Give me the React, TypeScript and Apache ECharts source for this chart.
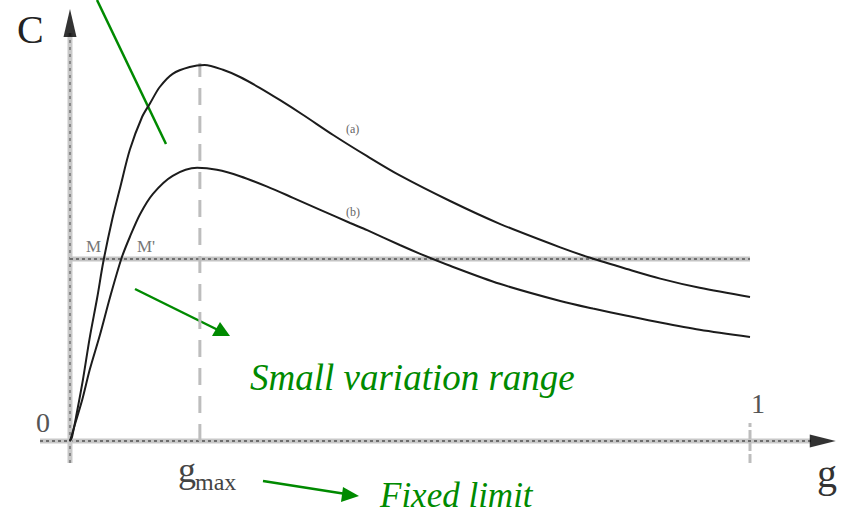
import React, { useEffect, useRef } from "react";
import * as echarts from "echarts";

// g (horizontal) and C (vertical) values, g in [0,1]
const curveA: number[][] = [
  [0, 0], [0.003, 0.01], [0.01, 0.07], [0.019, 0.153], [0.029, 0.258], [0.04, 0.358],
  [0.049, 0.448], [0.062, 0.553], [0.074, 0.635], [0.088, 0.728], [0.106, 0.81],
  [0.118, 0.845], [0.132, 0.885], [0.151, 0.918], [0.176, 0.935], [0.198, 0.94],
  [0.225, 0.928], [0.25, 0.91], [0.279, 0.883], [0.309, 0.852], [0.343, 0.815],
  [0.387, 0.765], [0.437, 0.712], [0.485, 0.664], [0.559, 0.6], [0.632, 0.543],
  [0.721, 0.484], [0.765, 0.458], [0.819, 0.43], [0.868, 0.406], [0.926, 0.383], [1, 0.36],
];
const curveB: number[][] = [
  [0, 0], [0.007, 0.04], [0.018, 0.103], [0.029, 0.178], [0.044, 0.265], [0.059, 0.36],
  [0.076, 0.458], [0.088, 0.51], [0.103, 0.567], [0.122, 0.618], [0.151, 0.663],
  [0.187, 0.683], [0.216, 0.678], [0.25, 0.662], [0.29, 0.636], [0.328, 0.608],
  [0.368, 0.578], [0.412, 0.545], [0.437, 0.527], [0.485, 0.49], [0.515, 0.468],
  [0.559, 0.438], [0.632, 0.393], [0.721, 0.35], [0.769, 0.331], [0.819, 0.313],
  [0.868, 0.296], [0.926, 0.278], [1, 0.26],
];
const LEVEL = 0.455; // horizontal level through M and M'
const G_MAX = 0.191;
const G_MAX_TOP = 0.945;
const G_ONE = 1;
const X_MIN = -0.0441;
const X_MAX = 1.1294;
const Y_MIN = -0.055;
const Y_MAX = 1.0825;
const tickLabels = { zero: "0", one: "1", gmax: "g", gmaxSub: "max", xName: "g", yName: "C" };
const curveLabels = ["(a)", "(b)"];
const levelLabels = ["M", "M'"];
const annotations = ["Small variation range", "Fixed limit"];

const GREEN = "#008a00";
const SERIF = "'Liberation Serif', 'DejaVu Serif', serif";

function lineSeries(data: number[][], color: string, width: number, type: any, z = 2) {
  return {
    type: "line",
    data,
    symbol: "none",
    silent: true,
    z,
    lineStyle: { color, width, type },
  };
}

export default function App() {
  const ref = useRef<HTMLDivElement>(null);
  useEffect(() => {
    if (!ref.current) return;
    const chart = echarts.init(ref.current, undefined, { renderer: "svg" });
    const xAxisLine = [[X_MIN, 0], [1.09, 0]];
    const yAxisLine = [[0, Y_MIN], [0, 1.02]];
    const levelLine = [[0, LEVEL], [1, LEVEL]];
    chart.setOption({
      animation: false,
      grid: { left: 40, right: 5, top: 8, bottom: 53 },
      xAxis: {
        type: "value", min: X_MIN, max: X_MAX,
        axisLine: { show: false }, axisTick: { show: false }, axisLabel: { show: false }, splitLine: { show: false },
      },
      yAxis: {
        type: "value", min: Y_MIN, max: Y_MAX,
        axisLine: { show: false }, axisTick: { show: false }, axisLabel: { show: false }, splitLine: { show: false },
      },
      series: [
        lineSeries(xAxisLine, "#c8c8c8", 5, "solid", 1),
        lineSeries(xAxisLine, "#6e6e6e", 2, [3, 3], 1),
        lineSeries(yAxisLine, "#c8c8c8", 5, "solid", 1),
        lineSeries(yAxisLine, "#8a8a8a", 2, [3, 4], 1),
        lineSeries(levelLine, "#c4c4c4", 5, "solid", 1),
        lineSeries(levelLine, "#707070", 2, [3, 3], 1),
        lineSeries([[G_MAX, 0], [G_MAX, G_MAX_TOP]], "#bdbdbd", 3, [17, 11], 1),
        lineSeries([[G_ONE, Y_MIN], [G_ONE, 0.045]], "#bdbdbd", 3, [9, 3], 1),
        { ...lineSeries(curveA, "#1c1c1c", 2, "solid", 3), smooth: 0.3 },
        { ...lineSeries(curveB, "#1c1c1c", 2, "solid", 3), smooth: 0.3 },
        {
          type: "scatter", silent: true, z: 4,
          data: [
            { value: [1.107, 0], symbol: "triangle", symbolSize: [13, 26], symbolRotate: -90 },
            { value: [0, 1.045], symbol: "triangle", symbolSize: [13, 28], symbolRotate: 0 },
          ],
          itemStyle: { color: "#000" },
        },
      ],
      graphic: [
        { type: "text", x: 17, y: 9, style: { text: tickLabels.yName, font: `40px ${SERIF}`, fill: "#222" } },
        { type: "text", x: 817, y: 453, style: { text: tickLabels.xName, font: `40px ${SERIF}`, fill: "#333" } },
        { type: "text", x: 36, y: 408, style: { text: tickLabels.zero, font: `28px ${SERIF}`, fill: "#555" } },
        { type: "text", x: 751, y: 389, style: { text: tickLabels.one, font: `28px ${SERIF}`, fill: "#555" } },
        { type: "text", x: 178, y: 452, style: { text: tickLabels.gmax, font: `36px ${SERIF}`, fill: "#444" } },
        { type: "text", x: 195, y: 470, style: { text: tickLabels.gmaxSub, font: `24px ${SERIF}`, fill: "#444" } },
        { type: "text", x: 86, y: 238, style: { text: levelLabels[0], font: `17px ${SERIF}`, fill: "#777" } },
        { type: "text", x: 137, y: 238, style: { text: levelLabels[1], font: `17px ${SERIF}`, fill: "#777" } },
        { type: "text", x: 346, y: 123, style: { text: curveLabels[0], font: `12px ${SERIF}`, fill: "#666" } },
        { type: "text", x: 346, y: 206, style: { text: curveLabels[1], font: `12px ${SERIF}`, fill: "#666" } },
        { type: "line", shape: { x1: 97, y1: 0, x2: 166, y2: 144 }, style: { stroke: GREEN, lineWidth: 2.5 } },
        { type: "line", shape: { x1: 135, y1: 289, x2: 218, y2: 330 }, style: { stroke: GREEN, lineWidth: 2.5 } },
        { type: "polygon", shape: { points: [[230, 336], [220, 322], [212, 336]] }, style: { fill: GREEN } },
        { type: "line", shape: { x1: 263, y1: 481, x2: 346, y2: 494 }, style: { stroke: GREEN, lineWidth: 2.5 } },
        { type: "polygon", shape: { points: [[359, 496], [343, 487], [341, 502]] }, style: { fill: GREEN } },
        { type: "text", x: 250, y: 359, style: { text: annotations[0], font: `italic 37px ${SERIF}`, fill: GREEN } },
        { type: "text", x: 380, y: 478, style: { text: annotations[1], font: `italic 35px ${SERIF}`, fill: GREEN } },
      ],
    });
    return () => chart.dispose();
  }, []);
  return <div ref={ref} style={{ position: "fixed", left: 0, top: 0, width: 843, height: 516, background: "#fff" }} />;
}
